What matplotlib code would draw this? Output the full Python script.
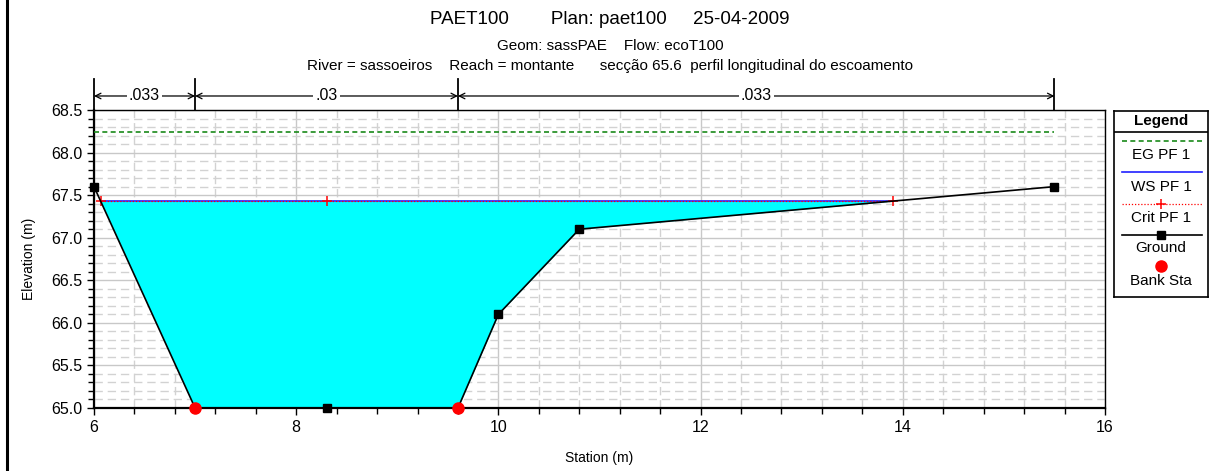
import numpy as np
import matplotlib; matplotlib.use("Agg"); import matplotlib.pyplot as plt
from matplotlib.ticker import MultipleLocator, FormatStrFormatter
from matplotlib.lines import Line2D

plt.rcParams['font.family'] = ['Liberation Sans', 'DejaVu Sans']

# cross-section data (HEC-RAS output)
station = np.array([6.0, 7.0, 8.3, 9.6, 10.0, 10.8, 15.5])
ground = np.array([67.6, 65.0, 65.0, 65.0, 66.1, 67.1, 67.6])
bank_sta = [7.0, 9.6]
bank_elev = [65.0, 65.0]
ws_elev = 67.43
crit_elev = 67.43
eg_elev = 68.24
n_bounds = [6.0, 7.0, 9.6, 15.5]
n_values = [".033", ".03", ".033"]

title1 = "PAET100        Plan: paet100     25-04-2009"
title2 = "Geom: sassPAE    Flow: ecoT100"
title3 = "River = sassoeiros    Reach = montante      secção 65.6  perfil longitudinal do escoamento"


def crossings(x, y, level):
    out = []
    for i in range(len(x) - 1):
        y0, y1 = y[i] - level, y[i + 1] - level
        if y0 * y1 < 0:
            out.append(x[i] + (x[i + 1] - x[i]) * y0 / (y0 - y1))
    return out


W, H = 1213, 471
fig = plt.figure(figsize=(W / 100, H / 100), dpi=100)
ax = fig.add_axes([94 / W, 1 - 408 / H, (1105 - 94) / W, (408 - 110) / H])
ax.set_xlim(6, 16); ax.set_ylim(65.0, 68.5)

# grid
ax.xaxis.set_major_locator(MultipleLocator(2)); ax.xaxis.set_minor_locator(MultipleLocator(0.4))
ax.yaxis.set_major_locator(MultipleLocator(0.5)); ax.yaxis.set_minor_locator(MultipleLocator(0.1))
ax.yaxis.set_major_formatter(FormatStrFormatter("%.1f"))
ax.grid(which="major", color="#c8c8c8", lw=1.0, ls="-", zorder=0)
ax.grid(which="minor", color="#d2d2d2", lw=1.0, ls=(0, (6, 3.5)), zorder=0)
ax.set_axisbelow(True)
ax.tick_params(which="both", direction="out", labelsize=11.5, width=1)
ax.tick_params(which="major", length=5)
ax.tick_params(which="minor", length=4)
for s in ax.spines.values(): s.set_linewidth(1.0)
ax.spines["left"].set_linewidth(1.6); ax.spines["bottom"].set_linewidth(1.6)

# water
xl, xr = crossings(station, ground, ws_elev)[0], crossings(station, ground, ws_elev)[-1]
ax.fill_between(station, ground, ws_elev, where=ground <= ws_elev, interpolate=True,
                color="#00ffff", lw=0, zorder=2)
ax.plot([6.0, 15.5], [eg_elev, eg_elev], color="#1a8a1a", ls=(0, (3, 2)), lw=1.2, zorder=3)
ax.plot([xl, xr], [ws_elev, ws_elev], color="#2020ff", lw=1.2, zorder=3)
ax.plot([xl, station[2], xr], [crit_elev] * 3, color="red", ls=(0, (1, 1.5)), lw=0.9,
        marker="+", ms=7, mew=1.1, zorder=4)
ax.plot(station, ground, color="black", lw=1.2, zorder=5, clip_on=False)
ax.plot(station[[0, 2, 4, 5, 6]], ground[[0, 2, 4, 5, 6]], ls="none", marker="s", ms=5.5,
        color="black", zorder=6, clip_on=False)
ax.plot(bank_sta, bank_elev, ls="none", marker="o", ms=8, color="red", zorder=7, clip_on=False)

ax.set_xlabel("Station (m)", fontsize=10, labelpad=12)
ax.set_ylabel("Elevation (m)", fontsize=10, labelpad=11)

# Manning's n bars above plot
tr = ax.get_xaxis_transform()
for b in n_bounds:
    ax.plot([b, b], [1.0, 1.103], transform=tr, color="black", lw=1.3, clip_on=False)
ya = 1.047
for (a, b), n in zip(zip(n_bounds[:-1], n_bounds[1:]), n_values):
    m = (a + b) / 2
    ax.annotate("", xy=(a, ya), xytext=(m, ya), xycoords=tr, textcoords=tr,
                arrowprops=dict(arrowstyle="->", lw=0.9, color="black", shrinkA=0, shrinkB=0))
    ax.annotate("", xy=(b, ya), xytext=(m, ya), xycoords=tr, textcoords=tr,
                arrowprops=dict(arrowstyle="->", lw=0.9, color="black", shrinkA=0, shrinkB=0))
    ax.text(m, ya, n, transform=tr, ha="center", va="center", fontsize=11.5,
            bbox=dict(facecolor="white", edgecolor="none", pad=1.5), zorder=10)

# titles
fig.text(610 / W, 1 - 20 / H, title1, ha="center", va="center", fontsize=13.5)
fig.text(610 / W, 1 - 46 / H, title2, ha="center", va="center", fontsize=11)
fig.text(610 / W, 1 - 66 / H, title3, ha="center", va="center", fontsize=11)

# left frame line
fig.add_artist(Line2D([7 / W, 7 / W], [0, 1], color="black", lw=2.2))

# legend box
lg = fig.add_axes([1114 / W, 1 - 297 / H, 94 / W, 186 / H])
lg.set_xlim(0, 1); lg.set_ylim(297, 111)
lg.set_xticks([]); lg.set_yticks([])
for s in lg.spines.values(): s.set_linewidth(1.2)
lg.axhline(132, color="black", lw=1.2)
lg.text(0.5, 121, "Legend", ha="center", va="center", fontsize=11, fontweight="bold")
lg.plot([0.09, 0.94], [141, 141], color="#1a8a1a", ls=(0, (3, 2)), lw=1.2)
lg.text(0.5, 155, "EG PF 1", ha="center", va="center", fontsize=11)
lg.plot([0.09, 0.94], [172, 172], color="#2020ff", lw=1.2)
lg.text(0.5, 187, "WS PF 1", ha="center", va="center", fontsize=11)
lg.plot([0.09, 0.94], [204, 204], color="red", ls=(0, (1, 1.5)), lw=0.9)
lg.plot([0.5], [204], color="red", marker="+", ms=7, mew=1.1)
lg.text(0.5, 218, "Crit PF 1", ha="center", va="center", fontsize=11)
lg.plot([0.09, 0.94], [235, 235], color="black", lw=1.2)
lg.plot([0.5], [235], color="black", marker="s", ms=5.5)
lg.text(0.5, 248, "Ground", ha="center", va="center", fontsize=11)
lg.plot([0.5], [266], color="red", marker="o", ms=8)
lg.text(0.5, 281, "Bank Sta", ha="center", va="center", fontsize=11)

fig.savefig("out.png", dpi=100)
